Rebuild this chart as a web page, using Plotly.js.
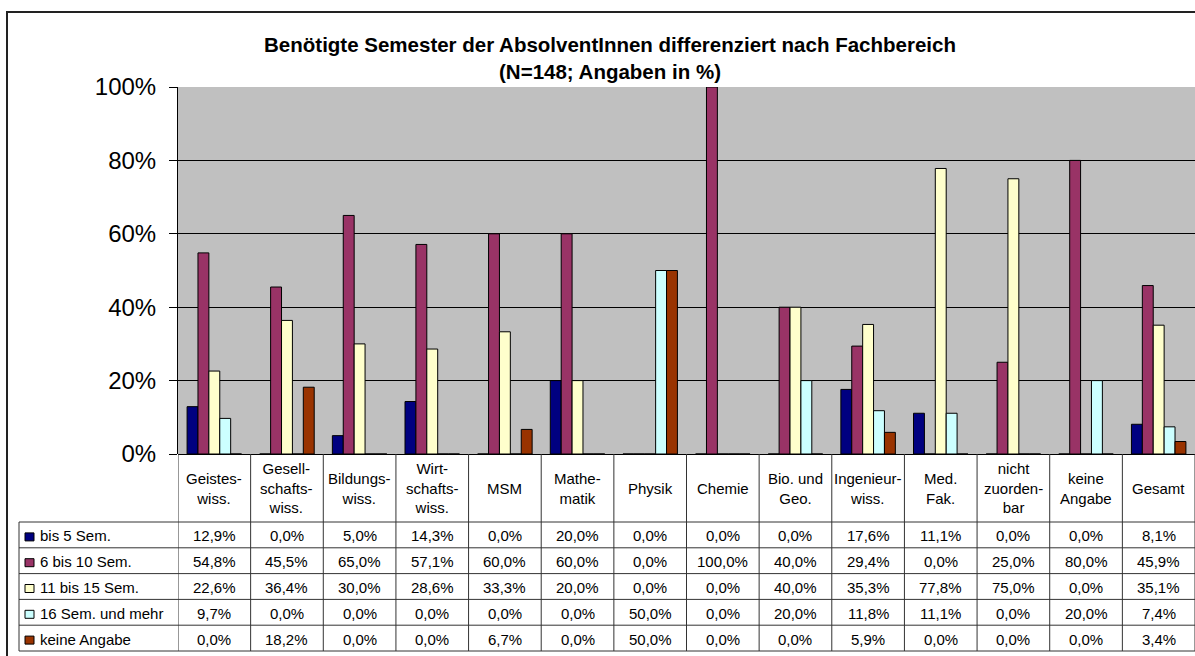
<!DOCTYPE html>
<html>
<head>
<meta charset="utf-8">
<script src="https://cdn.plot.ly/plotly-3.0.1.min.js"></script>
<style>html,body{margin:0;padding:0;background:#fff;}#chart{width:1195px;height:656px;}</style>
</head>
<body>
<div id="chart"></div>
<script>
const categories = ['Geistes-<br>wiss.', 'Gesell-<br>schafts-<br>wiss.', 'Bildungs-<br>wiss.', 'Wirt-<br>schafts-<br>wiss.', 'MSM', 'Mathe-<br>matik', 'Physik', 'Chemie', 'Bio. und<br>Geo.', 'Ingenieur-<br>wiss.', 'Med.<br>Fak.', 'nicht<br>zuorden-<br>bar', 'keine<br>Angabe', 'Gesamt'];
const seriesNames = ['bis 5 Sem.', '6 bis 10 Sem.', '11 bis 15 Sem.', '16 Sem. und mehr', 'keine Angabe'];
const bis5 = [12.9, 0.0, 5.0, 14.3, 0.0, 20.0, 0.0, 0.0, 0.0, 17.6, 11.1, 0.0, 0.0, 8.1];
const sem6bis10 = [54.8, 45.5, 65.0, 57.1, 60.0, 60.0, 0.0, 100.0, 40.0, 29.4, 0.0, 25.0, 80.0, 45.9];
const sem11bis15 = [22.6, 36.4, 30.0, 28.6, 33.3, 20.0, 0.0, 0.0, 40.0, 35.3, 77.8, 75.0, 0.0, 35.1];
const sem16plus = [9.7, 0.0, 0.0, 0.0, 0.0, 0.0, 50.0, 0.0, 20.0, 11.8, 11.1, 0.0, 20.0, 7.4];
const keineAngabe = [0.0, 18.2, 0.0, 0.0, 6.7, 0.0, 50.0, 0.0, 0.0, 5.9, 0.0, 0.0, 0.0, 3.4];
const yTicks = [0, 20, 40, 60, 80, 100];

const seriesValues = [bis5, sem6bis10, sem11bis15, sem16plus, keineAngabe];
const colors = ['#000080', '#993366', '#FFFFCC', '#CCFFFF', '#993300'];

// layout geometry (pixels)
const W = 1195, H = 656;
const plotL = 178, plotR = 1195, plotT = 87, plotB = 454;
const pw = plotR - plotL, ph = plotB - plotT;
const tableTop = 522, tableBottom = 651, legendLeft = 19;
const rowH = (tableBottom - tableTop) / 5;
const px = X => (X - plotL) / pw;
const py = Y => (plotB - Y) / ph;
const FONT = 'Liberation Sans, Arial, sans-serif';
const fmt = v => v.toFixed(1).replace('.', ',') + '%';

const traces = seriesValues.map((vals, i) => ({
  type: 'bar',
  name: seriesNames[i],
  x: categories,
  y: vals,
  marker: {color: colors[i], line: {color: '#000', width: 1}},
  hoverinfo: 'x+y+name'
}));

const shapes = [];
const annotations = [];
const lineCol = '#333';

// outer chart border
shapes.push({type: 'rect', xref: 'paper', yref: 'paper', x0: px(7), x1: px(1210), y0: py(12), y1: py(670), line: {color: '#222', width: 2}, layer: 'above'});

// vertical column lines (header + table)
for (let k = 0; k <= categories.length; k++) {
  shapes.push({type: 'line', xref: 'x', yref: 'paper', x0: k - 0.5, x1: k - 0.5, y0: py(plotB), y1: py(tableBottom), line: {color: lineCol, width: 1}});
}
// legend column left edge
shapes.push({type: 'line', xref: 'paper', yref: 'paper', x0: px(legendLeft), x1: px(legendLeft), y0: py(tableTop), y1: py(tableBottom), line: {color: lineCol, width: 1}});
// horizontal row lines
for (let r = 0; r <= 5; r++) {
  const Y = tableTop + r * rowH;
  shapes.push({type: 'line', xref: 'paper', yref: 'paper', x0: px(legendLeft), x1: px(1200), y0: py(Y), y1: py(Y), line: {color: lineCol, width: 1}});
}

// category header labels
categories.forEach(c => {
  annotations.push({xref: 'x', yref: 'paper', x: c, y: py((plotB + tableTop) / 2), text: c, showarrow: false, font: {family: FONT, size: 15, color: '#000'}, xanchor: 'center', yanchor: 'middle', align: 'center'});
});

// table rows
seriesNames.forEach((name, r) => {
  const Yc = tableTop + (r + 0.5) * rowH + 1;
  shapes.push({type: 'rect', xref: 'paper', yref: 'paper', x0: px(25), x1: px(34), y0: py(Yc - 3), y1: py(Yc + 5), fillcolor: colors[r], line: {color: '#000', width: 1}});
  annotations.push({xref: 'paper', yref: 'paper', x: px(38), y: py(Yc), text: name, showarrow: false, font: {family: FONT, size: 15, color: '#000'}, xanchor: 'left', yanchor: 'middle'});
  seriesValues[r].forEach((v, k) => {
    annotations.push({xref: 'x', yref: 'paper', x: categories[k], y: py(Yc), text: fmt(v), showarrow: false, font: {family: FONT, size: 15, color: '#000'}, xanchor: 'center', yanchor: 'middle'});
  });
});

const layout = {
  width: W, height: H,
  margin: {l: plotL, r: W - plotR, t: plotT, b: H - plotB, pad: 0},
  paper_bgcolor: '#fff',
  plot_bgcolor: '#C0C0C0',
  font: {family: FONT, color: '#000'},
  title: {
    text: '<b>Benötigte Semester der AbsolventInnen differenziert nach Fachbereich<br>(N=148; Angaben in %)</b>',
    font: {family: FONT, size: 20.5, color: '#000'},
    xref: 'container', x: 610 / W, xanchor: 'center',
    yref: 'container', y: 1 - 52 / H, yanchor: 'top'
  },
  showlegend: false,
  barmode: 'group',
  bargap: 0.25,
  bargroupgap: 0,
  xaxis: {
    type: 'category',
    showticklabels: false,
    showgrid: false,
    zeroline: false,
    showline: false,
    ticks: '',
    range: [-0.5, categories.length - 0.5],
    fixedrange: true
  },
  yaxis: {
    range: [0, 100],
    tickvals: yTicks,
    ticktext: yTicks.map(v => v + '%'),
    showgrid: true,
    gridcolor: '#000',
    gridwidth: 1,
    zeroline: true,
    zerolinecolor: '#000',
    zerolinewidth: 1,
    showline: true,
    linecolor: '#000',
    linewidth: 1,
    ticks: 'outside',
    ticklen: 8,
    tickcolor: '#000',
    ticklabelstandoff: 8,
    tickfont: {family: FONT, size: 24, color: '#000'},
    fixedrange: true
  },
  shapes: shapes,
  annotations: annotations
};

Plotly.newPlot('chart', traces, layout, {displayModeBar: false, staticPlot: true});
</script>
</body>
</html>
